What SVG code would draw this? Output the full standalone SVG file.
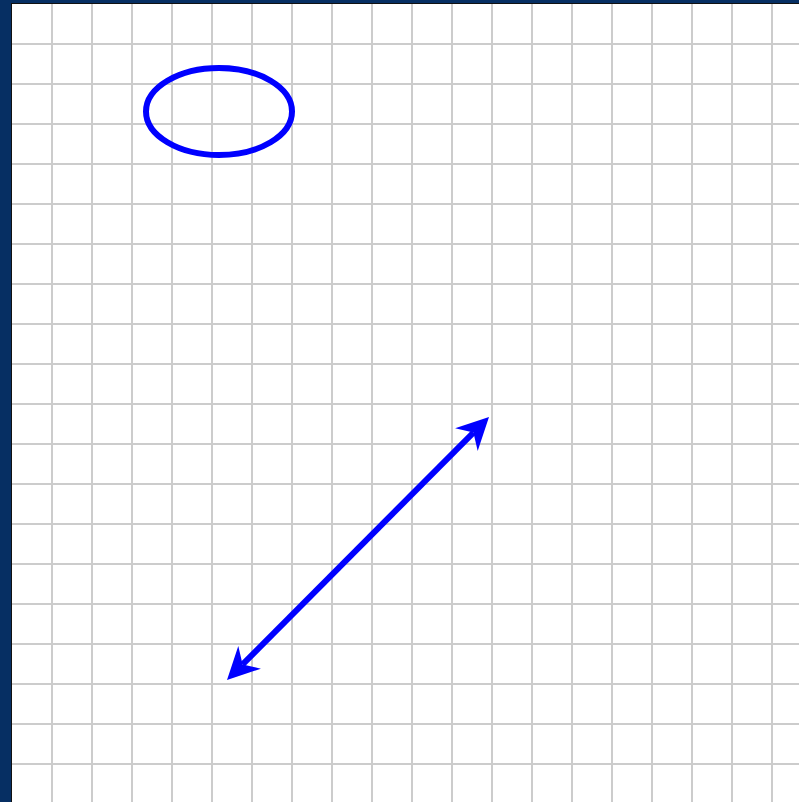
<svg xmlns="http://www.w3.org/2000/svg" width="799" height="802" viewBox="0 0 799 802">
<style>
.grid line{stroke:#cccccc;stroke-width:2}
.shape{fill:none;stroke:#0000ff;stroke-width:6}
.head{fill:#0000ff;stroke:none}
</style>
<rect x="0" y="0" width="799" height="802" fill="#062f63"/>
<rect x="11.5" y="3.5" width="800" height="810" fill="#ffffff" stroke="#111111" stroke-width="1"/>
<g class="grid">
<line x1="52" y1="4" x2="52" y2="802"/><line x1="92" y1="4" x2="92" y2="802"/><line x1="132" y1="4" x2="132" y2="802"/><line x1="172" y1="4" x2="172" y2="802"/><line x1="212" y1="4" x2="212" y2="802"/><line x1="252" y1="4" x2="252" y2="802"/><line x1="292" y1="4" x2="292" y2="802"/><line x1="332" y1="4" x2="332" y2="802"/><line x1="372" y1="4" x2="372" y2="802"/><line x1="412" y1="4" x2="412" y2="802"/><line x1="452" y1="4" x2="452" y2="802"/><line x1="492" y1="4" x2="492" y2="802"/><line x1="532" y1="4" x2="532" y2="802"/><line x1="572" y1="4" x2="572" y2="802"/><line x1="612" y1="4" x2="612" y2="802"/><line x1="652" y1="4" x2="652" y2="802"/><line x1="692" y1="4" x2="692" y2="802"/><line x1="732" y1="4" x2="732" y2="802"/><line x1="772" y1="4" x2="772" y2="802"/>
<line x1="12" y1="44" x2="799" y2="44"/><line x1="12" y1="84" x2="799" y2="84"/><line x1="12" y1="124" x2="799" y2="124"/><line x1="12" y1="164" x2="799" y2="164"/><line x1="12" y1="204" x2="799" y2="204"/><line x1="12" y1="244" x2="799" y2="244"/><line x1="12" y1="284" x2="799" y2="284"/><line x1="12" y1="324" x2="799" y2="324"/><line x1="12" y1="364" x2="799" y2="364"/><line x1="12" y1="404" x2="799" y2="404"/><line x1="12" y1="444" x2="799" y2="444"/><line x1="12" y1="484" x2="799" y2="484"/><line x1="12" y1="524" x2="799" y2="524"/><line x1="12" y1="564" x2="799" y2="564"/><line x1="12" y1="604" x2="799" y2="604"/><line x1="12" y1="644" x2="799" y2="644"/><line x1="12" y1="684" x2="799" y2="684"/><line x1="12" y1="724" x2="799" y2="724"/><line x1="12" y1="764" x2="799" y2="764"/>
</g>
<g id="ellipse1">
<ellipse class="shape" cx="219" cy="111.5" rx="73" ry="43.5"/>
</g>
<g id="connectors">
<line class="shape" x1="242.6" y1="664.4" x2="473.4" y2="432.6"/>
<path class="head" d="M489,417 L477.7,450.9 L473.4,432.6 L455.1,428.3 Z"/>
<path class="head" d="M227,680 L238.3,646.1 L242.6,664.4 L260.9,668.7 Z"/>
</g>
</svg>
